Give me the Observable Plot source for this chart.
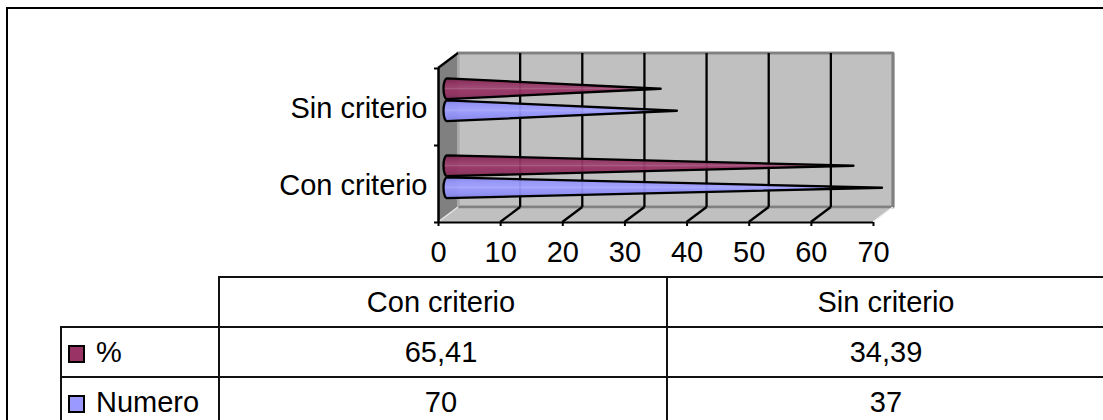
<!DOCTYPE html>
<html lang="es">
<head>
<meta charset="utf-8">
<script src="https://cdn.jsdelivr.net/npm/d3@7"></script>
<script src="https://cdn.jsdelivr.net/npm/@observablehq/plot@0.6"></script>
<style>
  html, body { margin: 0; padding: 0; background: #fff; }
  #page { position: relative; width: 1103px; height: 420px; overflow: hidden; font-family: "Liberation Sans", Arial, sans-serif; color: #000; }
  #frame { position: absolute; left: 6px; top: 7px; right: 0; bottom: 0; border-left: 2.5px solid #000; border-top: 2.5px solid #000; }
  #chart { position: absolute; left: 0; top: 0; }
  table { position: absolute; left: 60px; top: 276px; width: 1043px; border-collapse: collapse; table-layout: fixed; font-size: 29px; line-height: 1; }
  td { height: 48px; padding: 0; text-align: center; border: 2px solid #111; border-right: none; }
  td:nth-child(2) { padding-right: 4px; }
  td.blank { border: none; border-bottom: 2px solid #111; }
  td.series { text-align: left; white-space: nowrap; }
  .swatch { display: inline-block; box-sizing: border-box; width: 17.5px; height: 17.5px; margin: 0 11px 0 5.5px; border: 2px solid #000; vertical-align: -1px; }
</style>
</head>
<body>
<div id="page">
  <div id="frame"></div>
  <div id="chart"></div>
  <table id="datatable"></table>
</div>
<script>
// Categories and series, bottom category first on the y axis
const categories = ["Con criterio", "Sin criterio"];
const seriesNames = ["%", "Numero"];
const percentValues = [65.41, 34.39];
const numberValues = [70, 37];
const xTicks = [0, 10, 20, 30, 40, 50, 60, 70];
const seriesColors = ["#993366", "#9999ff"];

const fontFamily = '"Liberation Sans", Arial, sans-serif';
const seriesValues = [percentValues, numberValues];

// Oblique projection: depth d runs from the front plane (0) to the back wall (1)
const depthX = 20, depthY = 15;

function scene(index, {x, y}) {
  const at = (v, h, d = 0) => [x(v) + depthX * d, y(h) - depthY * d];
  const poly = pts => "M" + pts.map(p => at(...p).join(",")).join("L") + "Z";
  const g = d3.create("svg:g");

  // Shaded fills for the cones, with thin lighter bands along their length
  const defs = g.append("defs");
  const shades = [
    [["0", "#6e2148"], ["0.2", "#8f2f5f"], ["0.45", "#9c4270"], ["0.5", "#a85a80"], ["0.55", "#993366"], ["0.8", "#8f2f5f"], ["1", "#7a2651"]],
    [["0", "#7f7fe0"], ["0.2", "#9494fa"], ["0.45", "#a0a0ff"], ["0.5", "#aaaaff"], ["0.55", "#9999ff"], ["0.8", "#8e8ef5"], ["1", "#7d7de0"]]
  ];
  shades.forEach((stops, i) => {
    const grad = defs.append("linearGradient").attr("id", `cone-${i}`).attr("x1", 0).attr("x2", 0).attr("y1", 0).attr("y2", 1);
    stops.forEach(([o, c]) => grad.append("stop").attr("offset", o).attr("stop-color", c));
  });

  // Walls and floor
  const vMax = xTicks[xTicks.length - 1];
  g.append("path").attr("d", poly([[0, 0, 1], [vMax, 0, 1], [vMax, 2, 1], [0, 2, 1]]))
    .attr("fill", "#c0c0c0").attr("stroke", "#808080").attr("stroke-width", 2.5);
  g.append("path").attr("d", poly([[0, 0, 0], [vMax, 0, 0], [vMax, 0, 1], [0, 0, 1]]))
    .attr("fill", "#c0c0c0");
  g.append("path").attr("d", poly([[0, 0, 0], [0, 0, 1], [0, 2, 1], [0, 2, 0]]))
    .attr("fill", "#808080");

  const line = (a, b, stroke, width) => g.append("line")
    .attr("x1", at(...a)[0]).attr("y1", at(...a)[1])
    .attr("x2", at(...b)[0]).attr("y2", at(...b)[1])
    .attr("stroke", stroke).attr("stroke-width", width);

  // Floor and wall edges
  line([0, 0, 1], [vMax, 0, 1], "#808080", 2.5);
  line([0, 2, 1], [vMax, 2, 1], "#808080", 2.5);
  line([0, 0, 1], [0, 2, 1], "#a8a8a8", 2);
  line([0, 0, 0], [0, 0, 1], "#e4e4e4", 1.5);
  line([vMax, 0, 0], [vMax, 0, 1], "#f0f0f0", 1.5);
  line([vMax, 0, 1], [vMax, 2, 1], "#808080", 3);

  // Gridlines up the back wall and across the floor
  xTicks.filter(v => v > 0 && v < vMax).forEach(v => {
    line([v, 0, 1], [v, 2, 1], "#000", 2.3);
    line([v, 0, 0], [v, 0, 1], "#000", 2.3);
  });
  line([0, 2, 0], [0, 2, 1], "#000", 2.3);

  // Cones: elliptical base at zero, apex at the value
  const halfHeight = 0.135, seriesOffset = 0.143, coneDepth = 0.45;
  categories.forEach((cat, c) => {
    seriesValues.forEach((vals, s) => {
      const mid = c + 0.5 + (s === 0 ? seriesOffset : -seriesOffset);
      const top = at(0, mid + halfHeight, coneDepth);
      const bottom = at(0, mid - halfHeight, coneDepth);
      const apex = at(vals[c], mid, coneDepth);
      const rx = 3.5, ry = (bottom[1] - top[1]) / 2;
      g.append("path")
        .attr("d", `M${top}L${apex}L${bottom}A${rx},${ry} 0 0 1 ${top}Z`)
        .attr("fill", `url(#cone-${s})`).attr("fill-opacity", 0.94)
        .attr("stroke", "#000").attr("stroke-width", 2.3).attr("stroke-linejoin", "round");
    });
  });
  return g.node();
}

const chart = Plot.plot({
  width: 1103,
  height: 276,
  marginLeft: 438,
  marginRight: 230,
  marginTop: 68,
  marginBottom: 54,
  style: {fontFamily, fontSize: "29px", color: "#000", background: "transparent", overflow: "visible"},
  x: {domain: [0, 70]},
  y: {domain: [0, 2]},
  marks: [
    scene,
    Plot.ruleY([0], {stroke: "#000", strokeWidth: 2}),
    Plot.ruleX([0], {stroke: "#000", strokeWidth: 2.5}),
    Plot.axisX({ticks: xTicks, tickSize: 4, tickPadding: 15, label: null, stroke: "#000", strokeWidth: 2}),
    Plot.axisY({ticks: [0, 1, 2], tickSize: 4, tickFormat: () => "", label: null, stroke: "#000", strokeWidth: 2}),
    Plot.axisY({ticks: [0.5, 1.5], tickSize: 0, tickPadding: 11, dy: 1.5, label: null,
      tickFormat: d => categories[Math.floor(d)]})
  ]
});
document.getElementById("chart").append(chart);

// Data table under the chart
const decimal = v => String(v).replace(".", ",");
const table = d3.select("#datatable");
const cols = table.append("colgroup");
[158, 448, 437].forEach(w => cols.append("col").style("width", w + "px"));
const head = table.append("tr");
head.append("td").attr("class", "blank");
categories.forEach(c => head.append("td").text(c));
seriesNames.forEach((name, s) => {
  const row = table.append("tr");
  const label = row.append("td").attr("class", "series");
  label.append("span").attr("class", "swatch").style("background", seriesColors[s]);
  label.append("span").text(name);
  seriesValues[s].forEach(v => row.append("td").text(decimal(v)));
});
</script>
</body>
</html>
